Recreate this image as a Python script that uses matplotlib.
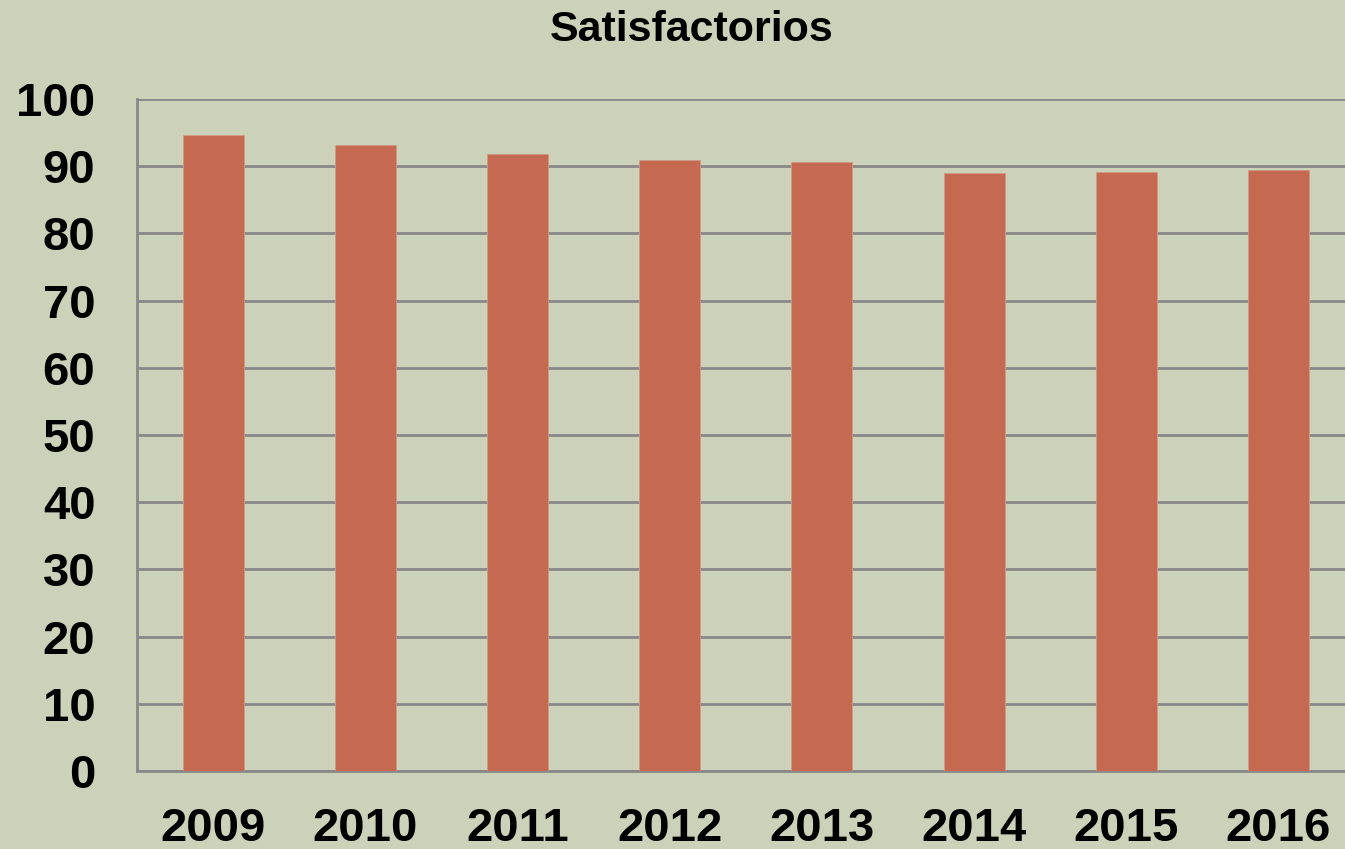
import matplotlib.pyplot as plt
import numpy as np

years = ["2009", "2010", "2011", "2012", "2013", "2014", "2015", "2016"]
satisfactorios = [94.6, 93.1, 91.8, 90.9, 90.6, 89.0, 89.2, 89.5]
y_ticks = list(range(0, 101, 10))

bg = "#ccd1b9"
bar_color = "#c56a50"
grid_color = "#888888"

fig = plt.figure(figsize=(13.45, 8.49), dpi=100, facecolor=bg)
ax = fig.add_axes([0.1019, 0.0919, 0.9052, 0.7915])
ax.set_facecolor(bg)

x = np.arange(len(years))
ax.bar(x, satisfactorios, width=0.4, color=bar_color, zorder=3,
       edgecolor="#d09a85", linewidth=0.6)

ax.set_xlim(-0.5, len(years) - 0.5)
ax.set_ylim(0, 100)
ax.set_yticks(y_ticks)
ax.yaxis.grid(True, color=grid_color, linewidth=2, zorder=0)

for side in ["top", "right"]:
    ax.spines[side].set_visible(False)
for side in ["left", "bottom"]:
    ax.spines[side].set_color(grid_color)
    ax.spines[side].set_linewidth(2)

ax.tick_params(axis="both", length=0)
ax.tick_params(axis="y", pad=30)
ax.tick_params(axis="x", pad=26)
ax.set_xticks(x)
ax.set_xticklabels(years)
for lbl in ax.get_yticklabels():
    lbl.set_fontsize(34)
    lbl.set_fontweight("bold")
    lbl.set_family("Liberation Sans")
for lbl in ax.get_xticklabels():
    lbl.set_fontsize(34)
    lbl.set_fontweight("bold")
    lbl.set_family("Liberation Sans")

fig.text(0.514, 0.965, "Satisfactorios", ha="center", va="center",
         fontsize=31, fontweight="bold", family="Liberation Sans")

fig.savefig("out.png", dpi=100, facecolor=bg)
